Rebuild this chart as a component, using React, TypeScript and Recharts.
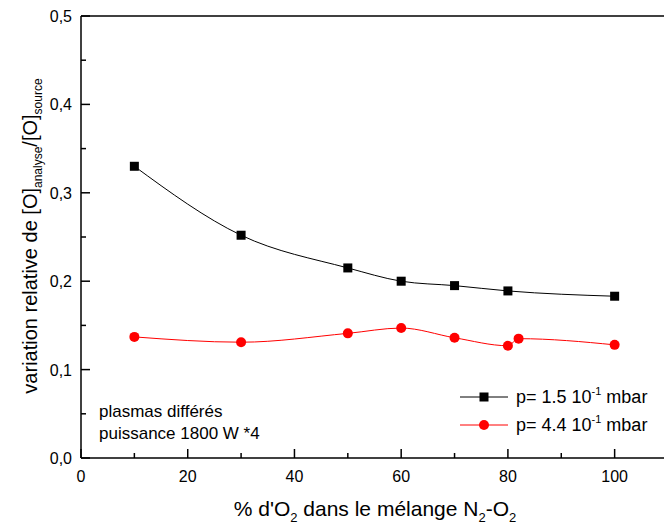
import React from 'react';
import { LineChart, Line, XAxis, YAxis, ReferenceLine } from 'recharts';

// % O2 in the N2-O2 mix
const xLow = [10, 30, 50, 60, 70, 80, 100];
const yLow = [0.33, 0.252, 0.215, 0.2, 0.195, 0.189, 0.183];
const xHigh = [10, 30, 50, 60, 70, 80, 82, 100];
const yHigh = [0.137, 0.131, 0.141, 0.147, 0.136, 0.127, 0.135, 0.128];

const xTicks = [0, 10, 20, 30, 40, 50, 60, 70, 80, 90, 100, 110];
const yTicks = [0, 0.05, 0.1, 0.15, 0.2, 0.25, 0.3, 0.35, 0.4, 0.45, 0.5];

const nameLow = 'p= 1.5 10-1 mbar';
const nameHigh = 'p= 4.4 10-1 mbar';

const FONT = '"Liberation Sans", Arial, sans-serif';

const lowData = xLow.map((x, i) => ({ x, y: yLow[i] }));
const highData = xHigh.map((x, i) => ({ x, y: yHigh[i] }));

const XTick = (props: any) => {
  const { x, y, payload } = props;
  const v = payload.value;
  const major = v % 20 === 0;
  return (
    <g>
      <line x1={x} y1={y} x2={x} y2={y - (major ? 9 : 5)} stroke="#000" strokeWidth={1.5} />
      {major && (
        <text x={x} y={y + 24} textAnchor="middle" fontSize={16} fontFamily={FONT} fill="#000">
          {v}
        </text>
      )}
    </g>
  );
};

const YTick = (props: any) => {
  const { x, y, payload } = props;
  const v = payload.value;
  const major = Math.round(v * 100) % 10 === 0;
  return (
    <g>
      <line x1={x} y1={y} x2={x + (major ? 9 : 5)} y2={y} stroke="#000" strokeWidth={1.5} />
      {major && (
        <text x={x - 9} y={y + 6} textAnchor="end" fontSize={16} fontFamily={FONT} fill="#000">
          {v.toFixed(1).replace('.', ',')}
        </text>
      )}
    </g>
  );
};

const XLabel = () => (
  <text x={375} y={516} textAnchor="middle" fontSize={21} fontFamily={FONT} fill="#000">
    % d'O<tspan dy={6} fontSize={13}>2</tspan>
    <tspan dy={-6}> dans le mélange N</tspan>
    <tspan dy={6} fontSize={13}>2</tspan>
    <tspan dy={-6}>-O</tspan>
    <tspan dy={6} fontSize={13}>2</tspan>
  </text>
);

const YLabel = () => (
  <text
    x={37}
    y={236}
    transform="rotate(-90, 37, 236)"
    textAnchor="middle"
    fontSize={20}
    fontFamily={FONT}
    fill="#000"
  >
    variation relative de [O]<tspan dy={5} fontSize={12}>analyse</tspan>
    <tspan dy={-5}>/[O]</tspan>
    <tspan dy={5} fontSize={12}>source</tspan>
  </text>
);

const Square = (props: any) => {
  const { cx, cy, index } = props;
  if (cx == null || cy == null) return null;
  return <rect key={`sq-${index}`} x={cx - 4.5} y={cy - 4.5} width={9} height={9} fill="#000" />;
};

const legendRows = [
  { label: nameLow, color: '#000', marker: 'square' },
  { label: nameHigh, color: '#ff0000', marker: 'circle' },
];

const LegendBox = () => (
  <div
    style={{
      position: 'absolute',
      left: 460,
      top: 383,
      fontFamily: FONT,
      fontSize: 18,
      color: '#000',
    }}
  >
    {legendRows.map((r) => {
      const [head, rest] = r.label.split('-1');
      return (
        <div key={r.label} style={{ display: 'flex', alignItems: 'center', height: 28 }}>
          <svg width={48} height={14} style={{ display: 'block' }}>
            <line x1={0} y1={7} x2={48} y2={7} stroke={r.color} strokeWidth={1} />
            {r.marker === 'square' ? (
              <rect x={19.5} y={2.5} width={9} height={9} fill={r.color} />
            ) : (
              <circle cx={24} cy={7} r={5} fill={r.color} />
            )}
          </svg>
          <span style={{ marginLeft: 8, whiteSpace: 'nowrap' }}>
            {head}
            <sup style={{ fontSize: 11, verticalAlign: 'top', position: 'relative', top: -2 }}>-1</sup>
            {rest}
          </span>
        </div>
      );
    })}
  </div>
);

const App: React.FC = () => {
  return (
    <div
      style={{
        position: 'fixed',
        left: 0,
        top: 0,
        width: 664,
        height: 526,
        overflow: 'hidden',
        background: '#fff',
      }}
    >
      <LineChart width={668} height={526} margin={{ top: 16, right: 0, bottom: 0, left: 0 }}>
        <XAxis
          type="number"
          dataKey="x"
          domain={[0, 110]}
          ticks={xTicks}
          interval={0}
          tickSize={0}
          tickMargin={0}
          tick={<XTick />}
          axisLine={{ stroke: '#000', strokeWidth: 1.5 }}
          height={68}
          label={<XLabel />}
          allowDuplicatedCategory={false}
        />
        <YAxis
          type="number"
          dataKey="y"
          domain={[0, 0.5]}
          ticks={yTicks}
          interval={0}
          tickSize={0}
          tickMargin={0}
          tick={<YTick />}
          axisLine={{ stroke: '#000', strokeWidth: 1.5 }}
          width={81}
          label={<YLabel />}
        />
        <ReferenceLine y={0.5} stroke="#000" strokeWidth={1.5} />
        <Line
          data={lowData}
          dataKey="y"
          name={nameLow}
          type="monotone"
          stroke="#000"
          strokeWidth={1}
          dot={Square}
          isAnimationActive={false}
        />
        <Line
          data={highData}
          dataKey="y"
          name={nameHigh}
          type="monotone"
          stroke="#ff0000"
          strokeWidth={1}
          dot={{ r: 5, fill: '#ff0000', stroke: '#ff0000', strokeWidth: 0 }}
          isAnimationActive={false}
        />
      </LineChart>
      <div
        style={{
          position: 'absolute',
          left: 99,
          top: 401,
          fontFamily: FONT,
          fontSize: 17,
          lineHeight: '22px',
          color: '#000',
        }}
      >
        plasmas différés
        <br />
        puissance 1800 W *4
      </div>
      <LegendBox />
    </div>
  );
};

export default App;
